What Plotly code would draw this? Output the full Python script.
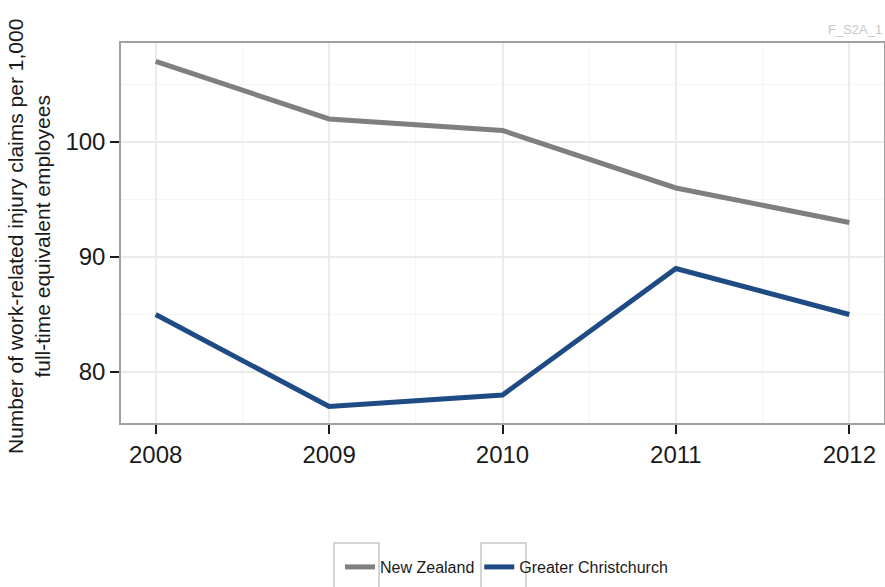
import plotly.graph_objects as go

years = [2008, 2009, 2010, 2011, 2012]
new_zealand = [107, 102, 101, 96, 93]
greater_christchurch = [85, 77, 78, 89, 85]
y_ticks = [80, 90, 100]
x_tick_labels = ["2008", "2009", "2010", "2011", "2012"]

fig = go.Figure()
fig.add_trace(go.Scatter(x=years, y=new_zealand, mode="lines", name="New Zealand",
                         line=dict(color="#7f7f7f", width=5)))
fig.add_trace(go.Scatter(x=years, y=greater_christchurch, mode="lines", name="Greater Christchurch",
                         line=dict(color="#1f4b85", width=5)))

font_family = "Liberation Sans, Arial, sans-serif"

def px_x(p):
    return (p - 121) / 763

def px_y(p):
    return (423 - p) / 380

box_style = dict(type="rect", xref="paper", yref="paper",
                 line=dict(color="#c8c8c8", width=1.5), fillcolor="rgba(0,0,0,0)", layer="below")
shapes = [
    dict(box_style, x0=px_x(334), x1=px_x(379), y0=px_y(543), y1=px_y(610)),
    dict(box_style, x0=px_x(481), x1=px_x(526), y0=px_y(543), y1=px_y(610)),
]

fig.update_layout(
    width=885, height=587,
    margin=dict(l=121, r=1, t=43, b=164),
    plot_bgcolor="white", paper_bgcolor="white",
    font=dict(family=font_family, color="#1a1a1a"),
    showlegend=True,
    legend=dict(orientation="h", x=px_x(340), xanchor="left", y=px_y(567), yanchor="middle",
                font=dict(size=16, color="#1a1a1a"), traceorder="normal",
                bgcolor="rgba(0,0,0,0)"),
    xaxis=dict(range=[2007.8, 2012.2], tickvals=years, ticktext=x_tick_labels, automargin=False,
               ticks="outside", ticklen=9, tickwidth=2, tickcolor="#1a1a1a",
               tickfont=dict(size=24), showgrid=True, gridcolor="#ebebeb", gridwidth=1.5,
               minor=dict(dtick=0.5, tick0=2007.5, showgrid=True, gridcolor="#f5f5f5", gridwidth=1),
               showline=True, linecolor="#a0a0a0", linewidth=1.5, mirror=True, zeroline=False),
    yaxis=dict(range=[75.57, 108.6], tickvals=y_ticks, automargin=False,
               ticks="outside", ticklen=9, tickwidth=2, tickcolor="#1a1a1a",
               tickfont=dict(size=24), showgrid=True, gridcolor="#ebebeb", gridwidth=1.5,
               minor=dict(dtick=5, tick0=75, showgrid=True, gridcolor="#f5f5f5", gridwidth=1),
               showline=True, linecolor="#a0a0a0", linewidth=1.5, mirror=True, zeroline=False),
    shapes=shapes,
    annotations=[
        dict(text="F_S2A_1", xref="paper", yref="paper", x=1.0, y=1.01,
             xanchor="right", yanchor="bottom", showarrow=False,
             font=dict(size=13, color="#c8c8c8")),
        dict(text="Number of work-related injury claims per 1,000<br>full-time equivalent employees",
             xref="paper", yref="paper", x=px_x(29), y=px_y(237), xanchor="center", yanchor="middle",
             textangle=-90, showarrow=False, font=dict(size=21, color="#1a1a1a")),
    ],
)

fig.write_html("out.html", config={"displayModeBar": False},
               post_script="document.body.style.margin='0px';")
